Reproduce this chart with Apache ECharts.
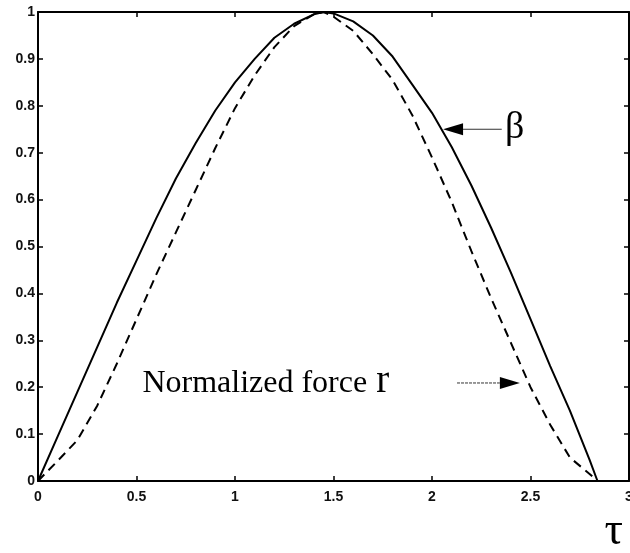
<!DOCTYPE html>
<html>
<head>
<meta charset="utf-8">
<title>beta and normalized force vs tau</title>
<script src="https://cdn.jsdelivr.net/npm/echarts@6/dist/echarts.min.js"></script>
<style>
  html, body { margin: 0; padding: 0; background: #fff; }
  #chart { width: 630px; height: 553px; }
</style>
</head>
<body>
<div id="chart"></div>
<script>
// Sample points along tau
const tau = [0, 0.1, 0.2, 0.3, 0.4, 0.5, 0.6, 0.7, 0.8, 0.9, 1.0, 1.1, 1.2, 1.3, 1.4, 1.45,
             1.5, 1.6, 1.7, 1.8, 1.9, 2.0, 2.1, 2.2, 2.3, 2.4, 2.5, 2.6, 2.7, 2.8, 2.84];

// beta (solid curve)
const beta = [0, 0.095, 0.19, 0.285, 0.38, 0.47, 0.56, 0.645, 0.72, 0.79, 0.85, 0.90, 0.945, 0.975, 0.995, 1.0,
              0.997, 0.98, 0.95, 0.905, 0.845, 0.785, 0.712, 0.63, 0.54, 0.445, 0.345, 0.245, 0.15, 0.045, 0];

// normalized force r (dashed curve)
const force = [0, 0.043, 0.087, 0.16, 0.25, 0.345, 0.44, 0.53, 0.62, 0.71, 0.795, 0.865, 0.925, 0.97, 0.995, 1.0,
               0.99, 0.96, 0.91, 0.855, 0.78, 0.69, 0.595, 0.49, 0.39, 0.295, 0.2, 0.12, 0.05, 0.015, 0];

// Annotation arrows in data coordinates: [tailTau, tipTau, y]
const betaArrow = [2.354, 2.056, 0.75];
const forceArrow = [2.127, 2.446, 0.209];

// Annotation text anchors in data coordinates (left edge, baseline)
const betaLabelAt = [2.37, 0.752];
const forceLabelAt = [0.53, 0.188];

const chart = echarts.init(document.getElementById('chart'), null, { renderer: 'canvas' });

const axisLine = { show: true, onZero: false, lineStyle: { color: '#000', width: 2 } };
const axisTick = { show: true, inside: true, length: 5, lineStyle: { color: '#000', width: 1.5 } };
const tickFont = { color: '#111', fontSize: 14, fontWeight: 'bold', fontFamily: 'Liberation Sans, Arial, sans-serif' };

chart.setOption({
  animation: false,
  backgroundColor: '#fff',
  grid: { left: 38, right: 1, top: 12, bottom: 72, outerBoundsMode: 'none', containLabel: false },
  xAxis: [
    { type: 'value', min: 0, max: 3, interval: 0.5, axisLine, axisTick,
      splitLine: { show: false }, axisLabel: Object.assign({ margin: 9 }, tickFont) },
    { type: 'value', position: 'top', min: 0, max: 3, interval: 0.5, axisLine, axisTick,
      splitLine: { show: false }, axisLabel: { show: false } }
  ],
  yAxis: [
    { type: 'value', min: 0, max: 1, interval: 0.1, axisLine, axisTick,
      splitLine: { show: false }, axisLabel: Object.assign({ margin: 3 }, tickFont) },
    { type: 'value', position: 'right', min: 0, max: 1, interval: 0.1, axisLine, axisTick,
      splitLine: { show: false }, axisLabel: { show: false } }
  ],
  series: [
    {
      name: 'beta', type: 'line', showSymbol: false, silent: true,
      data: tau.map((t, i) => [t, beta[i]]),
      lineStyle: { color: '#000', width: 2, type: 'solid' }
    },
    {
      name: 'force', type: 'line', showSymbol: false, silent: true,
      data: tau.map((t, i) => [t, force[i]]),
      lineStyle: { color: '#000', width: 2, type: [9, 6] }
    }
  ]
});

// Arrows and text labels, placed from data coordinates
function px(p) { return chart.convertToPixel({ xAxisIndex: 0, yAxisIndex: 0 }, p); }

function arrow(spec, dashed) {
  const tail = px([spec[0], spec[2]]);
  const tip = px([spec[1], spec[2]]);
  const dir = Math.sign(tip[0] - tail[0]);
  const headLen = 20, halfW = 6;
  const base = tip[0] - dir * headLen;
  return [
    { type: 'line', silent: true,
      shape: { x1: tail[0], y1: tail[1], x2: base, y2: tip[1] },
      style: { stroke: '#333', lineWidth: 1, lineDash: dashed ? [3, 1] : null } },
    { type: 'polygon', silent: true,
      shape: { points: [[tip[0], tip[1]], [base, tip[1] - halfW], [base, tip[1] + halfW]] },
      style: { fill: '#000' } }
  ];
}

// Measure text so the large "r" follows the phrase on a shared baseline
const serif = '"Liberation Serif", "DejaVu Serif", serif';
const phraseFont = '32px ' + serif;
const rFont = '39px ' + serif;
const ctx = document.createElement('canvas').getContext('2d');
ctx.font = phraseFont;
const phraseW = ctx.measureText('Normalized force ').width;
const pm = ctx.measureText('N');
const rMet = (ctx.font = rFont, ctx.measureText('r'));

const bPos = px(betaLabelAt);
const fPos = px(forceLabelAt);

// Text boxes use 'bottom' alignment: shift by each font's descent so baselines line up
function descent(font) {
  ctx.font = font;
  const m = ctx.measureText('Hg');
  return m.fontBoundingBoxDescent || 0;
}

chart.setOption({
  graphic: [
    ...arrow(betaArrow, false),
    ...arrow(forceArrow, true),
    { type: 'text', silent: true, x: bPos[0], y: bPos[1],
      style: { text: 'β', font: '38px ' + serif, fill: '#000', align: 'left', verticalAlign: 'middle' } },
    { type: 'text', silent: true, x: fPos[0], y: fPos[1] + descent(phraseFont),
      style: { text: 'Normalized force', font: phraseFont, fill: '#000', align: 'left', verticalAlign: 'bottom' } },
    { type: 'text', silent: true, x: fPos[0] + phraseW + 1, y: fPos[1] + descent(rFont),
      style: { text: 'r', font: rFont, fill: '#000', align: 'left', verticalAlign: 'bottom' } },
    { type: 'text', silent: true, right: 7, bottom: -2,
      style: { text: 'τ', font: '46px ' + serif, fill: '#000' } }
  ]
});
</script>
</body>
</html>
